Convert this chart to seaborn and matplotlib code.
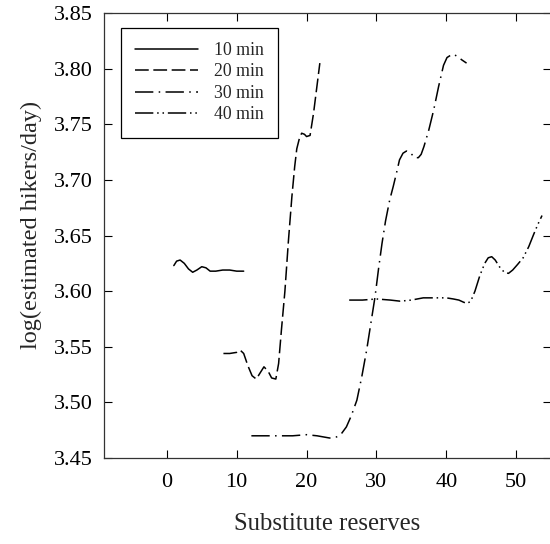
import matplotlib
matplotlib.use("Agg")
import matplotlib.pyplot as plt
import seaborn as sns
import pandas as pd

# ---- data ----
x10 = [1.0, 1.4, 1.9, 2.5, 3.1, 3.7, 4.3, 5.0, 5.6, 6.2, 7.0, 8.0, 9.0, 10.0, 11.0]
y10 = [3.623, 3.627, 3.628, 3.625, 3.620, 3.617, 3.619, 3.622, 3.621, 3.618, 3.618, 3.619, 3.619, 3.618, 3.618]

x20 = [8.1, 9.0, 10.0, 10.5, 11.0, 11.6, 12.2, 12.8, 13.3, 13.9, 14.5, 15.0, 15.6, 16.0, 16.4, 16.9, 17.4, 17.9, 18.3, 18.6, 19.0, 19.3, 19.7, 20.0, 20.5, 21.0, 21.5, 21.9]
y20 = [3.544, 3.544, 3.545, 3.547, 3.544, 3.533, 3.524, 3.521, 3.526, 3.532, 3.528, 3.522, 3.521, 3.535, 3.565, 3.600, 3.645, 3.685, 3.712, 3.728, 3.738, 3.742, 3.741, 3.739, 3.740, 3.760, 3.785, 3.805]

x30 = [12.1, 14.0, 16.0, 18.0, 20.0, 21.5, 23.3, 24.3, 25.0, 25.7, 26.4, 27.2, 27.9, 28.6, 29.2, 29.8, 30.3, 30.8, 31.3, 31.9, 32.4, 32.9, 33.3, 33.8, 34.3, 34.9, 35.5, 36.0, 36.4, 36.8, 37.5, 38.2, 38.9, 39.6, 40.1, 40.6, 41.0, 41.6, 42.2, 42.9]
y30 = [3.470, 3.470, 3.470, 3.470, 3.471, 3.470, 3.468, 3.469, 3.472, 3.478, 3.488, 3.502, 3.523, 3.547, 3.571, 3.595, 3.620, 3.643, 3.663, 3.682, 3.694, 3.707, 3.718, 3.724, 3.726, 3.724, 3.720, 3.720, 3.723, 3.730, 3.745, 3.763, 3.784, 3.803, 3.810, 3.812, 3.813, 3.811, 3.808, 3.805]

x40 = [26.1, 28.0, 30.0, 32.0, 33.4, 35.0, 36.7, 38.5, 40.0, 41.0, 41.8, 42.5, 43.0, 43.5, 44.1, 44.8, 45.5, 46.0, 46.5, 47.0, 47.6, 48.3, 48.9, 49.5, 50.2, 51.0, 51.8, 52.5, 53.1, 53.7]
y40 = [3.592, 3.592, 3.593, 3.592, 3.591, 3.592, 3.594, 3.594, 3.594, 3.593, 3.592, 3.590, 3.589, 3.591, 3.600, 3.614, 3.625, 3.630, 3.631, 3.628, 3.622, 3.617, 3.616, 3.619, 3.624, 3.630, 3.640, 3.651, 3.660, 3.668]

labels = ["10 min", "20 min", "30 min", "40 min"]
xticks = [0, 10, 20, 30, 40, 50]
yticks = [3.45, 3.50, 3.55, 3.60, 3.65, 3.70, 3.75, 3.80, 3.85]

sns.set_theme(style="white")
plt.rcParams["font.family"] = ["Liberation Serif", "DejaVu Serif"]
plt.rcParams["mathtext.fontset"] = "stix"

fig = plt.figure(figsize=(5.5, 5.44), dpi=100)
ax = fig.add_axes([0.189, 0.158, 0.813, 0.818])

styles = [
    "-",
    (0, (9, 3)),
    (0, (12, 3.5, 1, 3.5)),
    (0, (12, 2.5, 1, 2.5, 1, 2.5)),
]
series = [(x10, y10), (x20, y20), (x30, y30), (x40, y40)]
for (xs, ys), lab, ls in zip(series, labels, styles):
    df = pd.DataFrame({"x": xs, "y": ys})
    sns.lineplot(data=df, x="x", y="y", ax=ax, color="black", linewidth=1.1,
                 linestyle=ls, label=lab, sort=False, estimator=None)

ax.set_xlim(-9, 55)
ax.set_ylim(3.45, 3.85)
ax.set_xticks(xticks)
ax.set_yticks(yticks)
ax.set_yticklabels([f"{v:.2f}" for v in yticks])
ax.tick_params(direction="in", length=6, width=0.8, colors="black", labelsize=16,
               top=True, right=True, bottom=True, left=True)
ax.tick_params(axis="x", pad=11)
ax.tick_params(axis="y", pad=8)
for sp in ax.spines.values():
    sp.set_color("#333333")
    sp.set_linewidth(0.9)
    sp.set_visible(True)

ax.set_xlabel("Substitute reserves", fontsize=17.8, labelpad=15)
ax.set_ylabel("log(estimated hikers/day)", fontsize=17.5)
ax.yaxis.set_label_coords(-0.139, 0.524)

leg = ax.legend(loc="upper left", bbox_to_anchor=(0.038, 0.967), fontsize=12.8,
                frameon=True, fancybox=False, edgecolor="black", framealpha=1,
                handlelength=3.55, handletextpad=0.9, borderpad=0.8, labelspacing=0.25,
                borderaxespad=0)
leg.get_frame().set_linewidth(0.9)

fig.savefig("out.png", dpi=100)
